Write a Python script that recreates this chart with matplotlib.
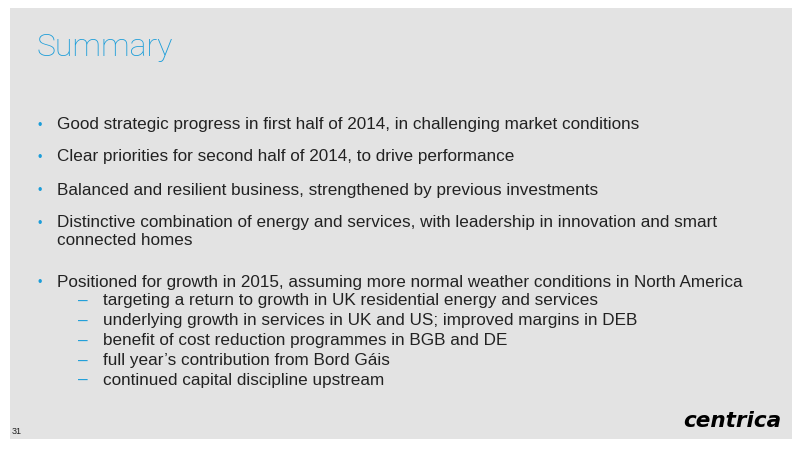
import matplotlib.pyplot as plt
from matplotlib.patches import Rectangle

TITLE = "Summary"
BULLETS = [
    ["Good strategic progress in first half of 2014, in challenging market conditions"],
    ["Clear priorities for second half of 2014, to drive performance"],
    ["Balanced and resilient business, strengthened by previous investments"],
    ["Distinctive combination of energy and services, with leadership in innovation and smart",
     "connected homes"],
    ["Positioned for growth in 2015, assuming more normal weather conditions in North America"],
]
SUB_BULLETS = [
    "targeting a return to growth in UK residential energy and services",
    "underlying growth in services in UK and US; improved margins in DEB",
    "benefit of cost reduction programmes in BGB and DE",
    "full year\u2019s contribution from Bord G\u00e1is",
    "continued capital discipline upstream",
]
PAGE = "31"
LOGO = "centrica"

BLUE = "#1b9dd9"
TEXT = "#222222"
BG = "#e3e3e3"

fig = plt.figure(figsize=(8, 4.5), dpi=100)
ax = fig.add_axes([0, 0, 1, 1])
ax.set_xlim(0, 800)
ax.set_ylim(450, 0)
ax.axis("off")

ax.add_patch(Rectangle((10, 8), 782, 431, facecolor=BG, edgecolor="none"))

ax.text(36, 48, TITLE, color=BLUE, fontsize=23, family="Roboto",
        fontweight="light", va="center", ha="left")

body = dict(color=TEXT, fontsize=12.35, family="Liberation Sans", va="center", ha="left")

bullet_y = [125, 157, 190, 223, 282]
for y, lines in zip(bullet_y, BULLETS):
    ax.text(37, y + 1, "\u2022", color=BLUE, fontsize=9, va="center", ha="left",
            family="Liberation Sans")
    for k, line in enumerate(lines):
        ax.text(57, y + k * 17.5, line, **body)

sub_y = [301, 321, 341, 361, 380]
for y, line in zip(sub_y, SUB_BULLETS):
    ax.text(78, y, "\u2013", color=BLUE, fontsize=12.4, va="center", ha="left",
            family="Liberation Sans")
    ax.text(103, y, line, **body)

ax.text(12, 432, PAGE, color=TEXT, fontsize=6.5, family="Liberation Sans",
        va="center", ha="left")
ax.text(781, 421, LOGO, color="black", fontsize=15.5, family="DejaVu Sans",
        fontweight="heavy", fontstyle="italic", va="center", ha="right")

fig.savefig("out.png", dpi=100, facecolor="white")
